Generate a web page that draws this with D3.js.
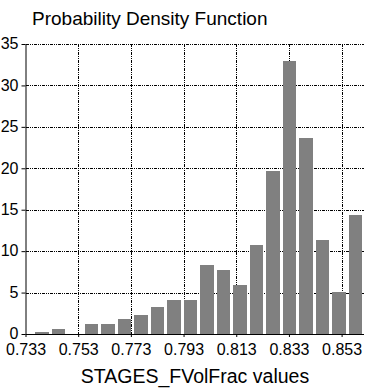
<html lang='en'>
<head>
  <meta charset='UTF-8'/>
  <title>Probability Density Function</title>
  <script src='https://d3js.org/d3.v7.min.js'></script>
  <style>
    body { margin: 0; background: #fff; }
    text { font-family: 'Liberation Sans', Arial, sans-serif; fill: #000; }
  </style>
</head>
<body>
  <svg id='chart' width='368' height='391'></svg>
</body>
</html>

<script>
// bin centres (x) and density values
const binCenters = [0.7392, 0.7455, 0.7518, 0.7580, 0.7643, 0.7706, 0.7768, 0.7831, 0.7894, 0.7956,
                    0.8019, 0.8082, 0.8144, 0.8207, 0.8270, 0.8332, 0.8395, 0.8458, 0.8520, 0.8583];
const density = [0.25, 0.6, 0, 1.25, 1.25, 1.8, 2.3, 3.25, 4.1, 4.1,
                 8.33, 7.72, 5.9, 10.74, 19.67, 32.9, 23.65, 11.34, 5.07, 14.36];
const binWidth = 0.00627;
const xTicks = [0.733, 0.753, 0.773, 0.793, 0.813, 0.833, 0.853];
const yTicks = [0, 5, 10, 15, 20, 25, 30, 35];

const svg = d3.select('#chart');
const plotL = 25.5, plotR = 364, plotT = 44, plotB = 334;

const x = d3.scaleLinear().domain([0.733, 0.8615]).range([plotL, plotR]);
const y = d3.scaleLinear().domain([0, 35]).range([plotB, plotT]);

// grid
const grid = svg.append('g')
  .attr('stroke', '#000')
  .attr('stroke-width', 1)
  .attr('stroke-dasharray', '3,1,1,1,1,1')
  .attr('shape-rendering', 'crispEdges');

grid.selectAll('.hg').data(yTicks.slice(1)).enter()
  .append('line')
  .attr('x1', plotL).attr('x2', plotR)
  .attr('y1', d => Math.round(y(d)) + 0.5)
  .attr('y2', d => Math.round(y(d)) + 0.5);

grid.selectAll('.vg').data(xTicks.slice(1)).enter()
  .append('line')
  .attr('y1', plotT).attr('y2', plotB)
  .attr('x1', d => Math.round(x(d)) + 0.5)
  .attr('x2', d => Math.round(x(d)) + 0.5);

// bars
svg.selectAll('.bar').data(density).enter()
  .append('rect')
  .attr('class', 'bar')
  .attr('fill', '#808080')
  .attr('shape-rendering', 'crispEdges')
  .attr('x', (d, i) => x(binCenters[i] - binWidth * 0.41))
  .attr('width', x(binCenters[0] + binWidth * 0.41) - x(binCenters[0] - binWidth * 0.41))
  .attr('y', d => y(d))
  .attr('height', d => y(0) - y(d));

// axes
const xAxis = svg.append('g')
  .attr('transform', `translate(0, ${plotB})`)
  .call(d3.axisBottom(x).tickValues(xTicks).tickFormat(d3.format('.3f')).tickSize(3).tickPadding(4));
xAxis.select('.domain').attr('d', `M${plotL},0.5H${plotR}`);

const yAxis = svg.append('g')
  .attr('transform', `translate(${plotL}, 0)`)
  .call(d3.axisLeft(y).tickValues(yTicks).tickSize(4).tickPadding(3));
yAxis.select('.domain').attr('d', `M0.5,${plotT}V${plotB}`);

svg.selectAll('.tick text').style('font-size', '16px')
  .attr('font-family', null);
xAxis.selectAll('.tick text').attr('dy', null).attr('y', 21);
yAxis.selectAll('.tick text').attr('dy', '0.3em');
svg.selectAll('.tick line, .domain').attr('stroke', '#000');

// titles
svg.append('text')
  .attr('x', 32).attr('y', 25)
  .style('font-size', '19px')
  .text('Probability Density Function');

svg.append('text')
  .attr('x', 195).attr('y', 383)
  .attr('text-anchor', 'middle')
  .style('font-size', '19.5px')
  .text('STAGES_FVolFrac values');
</script>
